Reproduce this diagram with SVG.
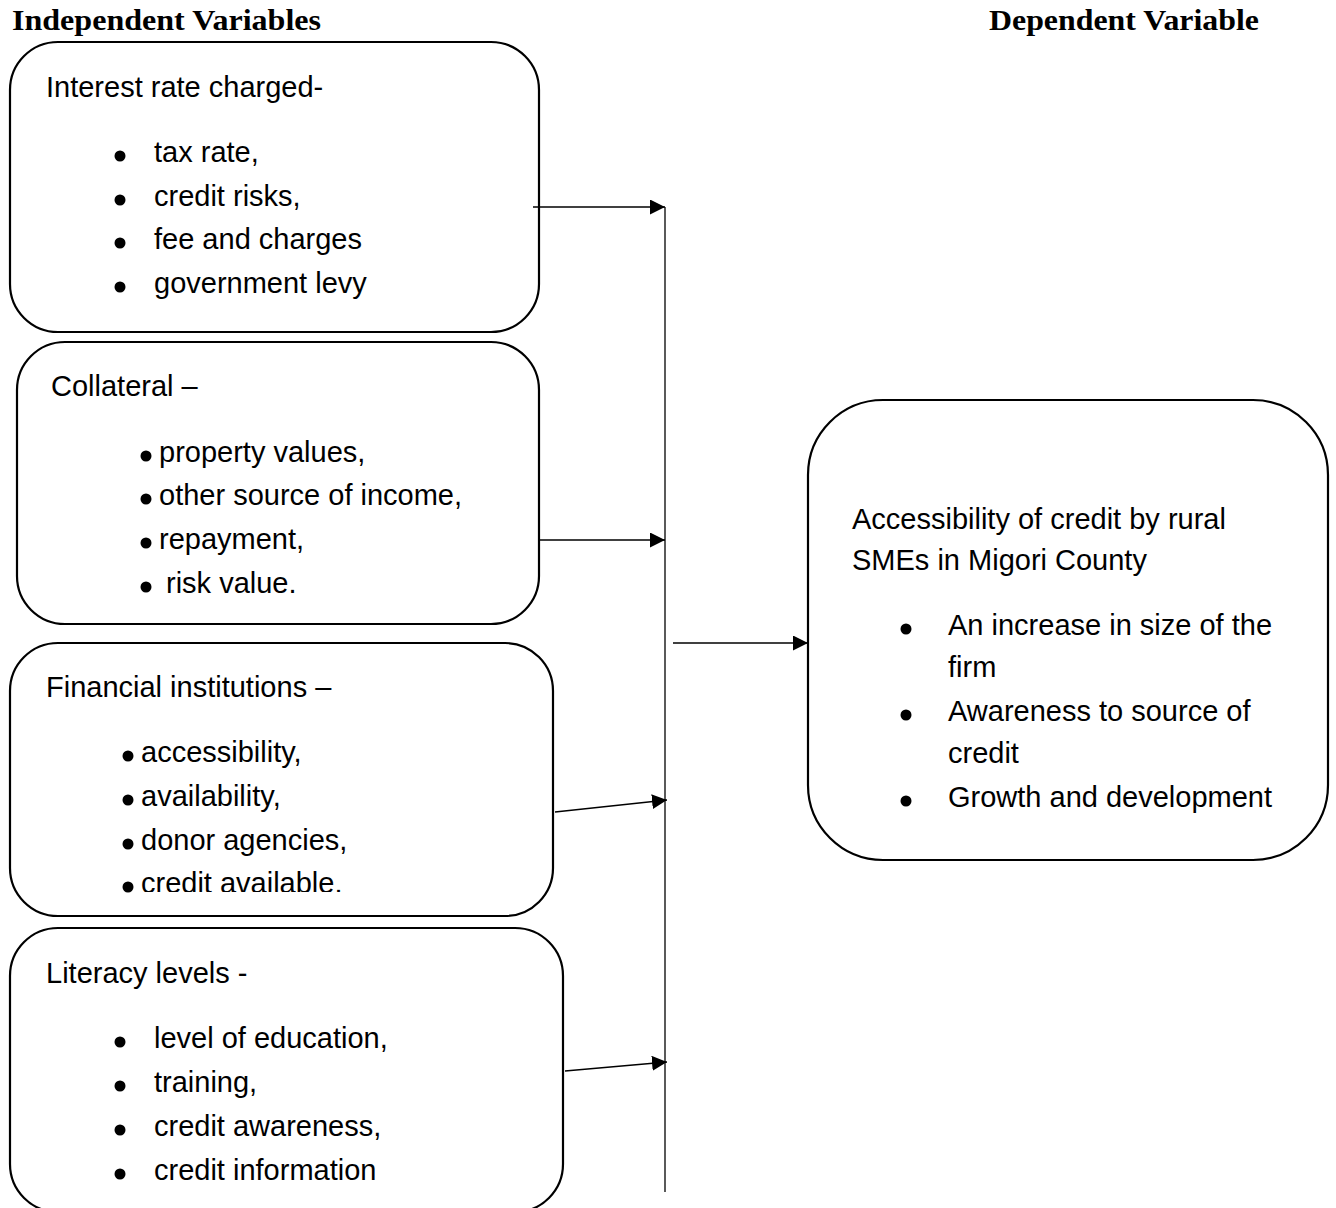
<svg xmlns="http://www.w3.org/2000/svg" width="1336" height="1208" viewBox="0 0 1336 1208">
<style>
.box{fill:#fff;stroke:#000;stroke-width:2.2}
.t{font-family:"Liberation Sans",Arial,sans-serif;font-size:29px;fill:#000}
.h{font-family:"Liberation Serif","Times New Roman",serif;font-size:29px;font-weight:bold;fill:#000}
.b{fill:#000}
.c{stroke:#000;stroke-width:1.3;fill:none}
</style>
<defs>
<marker id="ah" viewBox="0 0 10 10" refX="10" refY="5" markerWidth="15" markerHeight="15" markerUnits="userSpaceOnUse" orient="auto">
<path d="M0,0 L10,5 L0,10 z" fill="#000"/>
</marker>
<clipPath id="clip3"><rect x="10" y="643" width="543" height="249"/></clipPath>
</defs>
<rect width="1336" height="1208" fill="#fff"/>
<text class="h" x="12" y="30" textLength="309" lengthAdjust="spacingAndGlyphs">Independent Variables</text>
<text class="h" x="989" y="30" textLength="270" lengthAdjust="spacingAndGlyphs">Dependent Variable</text>

<g id="node-interest">
<rect class="box" x="10" y="42" width="529" height="290" rx="48"/>
<text class="t" x="46" y="97">Interest rate charged-</text>
<circle class="b" cx="120" cy="156" r="5.5"/><text class="t" x="154" y="162">tax rate,</text>
<circle class="b" cx="120" cy="200" r="5.5"/><text class="t" x="154" y="206">credit risks,</text>
<circle class="b" cx="120" cy="243" r="5.5"/><text class="t" x="154" y="249">fee and charges</text>
<circle class="b" cx="120" cy="287" r="5.5"/><text class="t" x="154" y="293">government levy</text>
</g>

<g id="node-collateral">
<rect class="box" x="17" y="342" width="522" height="282" rx="48"/>
<text class="t" x="51" y="396">Collateral –</text>
<circle class="b" cx="146" cy="456" r="5.5"/><text class="t" x="159" y="462">property values,</text>
<circle class="b" cx="146" cy="499" r="5.5"/><text class="t" x="159" y="505">other source of income,</text>
<circle class="b" cx="146" cy="543" r="5.5"/><text class="t" x="159" y="549">repayment,</text>
<circle class="b" cx="146" cy="587" r="5.5"/><text class="t" x="166" y="593">risk value.</text>
</g>

<g id="node-financial">
<rect class="box" x="10" y="643" width="543" height="273" rx="48"/>
<text class="t" x="46" y="697">Financial institutions –</text>
<circle class="b" cx="128" cy="756" r="5.5"/><text class="t" x="141" y="762">accessibility,</text>
<circle class="b" cx="128" cy="800" r="5.5"/><text class="t" x="141" y="806">availability,</text>
<circle class="b" cx="128" cy="844" r="5.5"/><text class="t" x="141" y="850">donor agencies,</text>
<circle class="b" cx="128" cy="887" r="5.5"/><text class="t" x="141" y="893" clip-path="url(#clip3)">credit available.</text>
</g>

<g id="node-literacy">
<rect class="box" x="10" y="928" width="553" height="284" rx="48"/>
<text class="t" x="46" y="983">Literacy levels -</text>
<circle class="b" cx="120" cy="1042" r="5.5"/><text class="t" x="154" y="1048">level of education,</text>
<circle class="b" cx="120" cy="1086" r="5.5"/><text class="t" x="154" y="1092">training,</text>
<circle class="b" cx="120" cy="1130" r="5.5"/><text class="t" x="154" y="1136">credit awareness,</text>
<circle class="b" cx="120" cy="1174" r="5.5"/><text class="t" x="154" y="1180">credit information</text>
</g>

<g id="node-accessibility">
<rect class="box" x="808" y="400" width="520" height="460" rx="75"/>
<text class="t" x="852" y="529">Accessibility of credit by rural</text>
<text class="t" x="852" y="570">SMEs in Migori County</text>
<circle class="b" cx="906" cy="629" r="5.5"/><text class="t" x="948" y="635">An increase in size of the</text>
<text class="t" x="948" y="677">firm</text>
<circle class="b" cx="906" cy="715" r="5.5"/><text class="t" x="948" y="721">Awareness to source of</text>
<text class="t" x="948" y="763">credit</text>
<circle class="b" cx="906" cy="801" r="5.5"/><text class="t" x="948" y="807">Growth and development</text>
</g>

<g id="connectors">
<line class="c" x1="665" y1="207" x2="665" y2="1192"/>
<line class="c" x1="533" y1="207" x2="665" y2="207" marker-end="url(#ah)"/>
<line class="c" x1="540" y1="540" x2="665" y2="540" marker-end="url(#ah)"/>
<line class="c" x1="555" y1="812" x2="667" y2="800" marker-end="url(#ah)"/>
<line class="c" x1="565" y1="1071" x2="667" y2="1062" marker-end="url(#ah)"/>
<line class="c" x1="673" y1="643" x2="808" y2="643" marker-end="url(#ah)"/>
</g>
</svg>
